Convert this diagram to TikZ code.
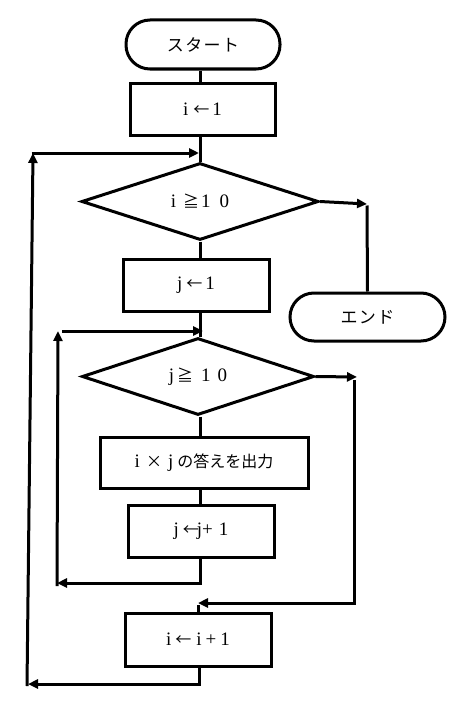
\documentclass[tikz,border=0pt]{standalone}
\usepackage{fontspec}
\setmainfont{Liberation Serif}
\newfontfamily\jp{Noto Sans CJK JP}
\newfontfamily\jpw{Noto Sans CJK JP}[LetterSpace=8]
\usetikzlibrary{shapes.geometric,arrows.meta}
\newcommand{\ja}[1]{{\jp\fontsize{16}{18}\selectfont #1}}
\begin{document}
\begin{tikzpicture}[x=1pt,y=-1pt,
  every node/.style={font=\fontsize{19}{21}\selectfont, inner sep=0pt},
  proc/.style={draw, line width=3pt, rectangle, minimum height=52pt},
  term/.style={draw, line width=3pt, rectangle, rounded corners=24pt, minimum height=49pt, font=\jpw\fontsize{17}{20}\selectfont},
  cond/.style={draw, line width=3pt, diamond, minimum height=77pt},
  conn/.style={line width=3pt},
  arr/.style={line width=3pt, -{Triangle[length=10pt,width=9pt]}}]
\useasboundingbox (0,0) rectangle (464,709);
\coordinate (col) at (200,0);
% nodes
\node[term, minimum width=154pt] (start) at (203,44.5) {スタート};
\node[proc, minimum width=145pt] (b1) at (202.5,109) {i\hspace{5pt}\ja{←}\hspace{3pt}1};
\node[cond, minimum width=237pt] (d1) at (200,201.5) {i\hspace{7pt}\ja{≧}\hspace{2pt}1\hspace{9pt}0};
\node[proc, minimum width=146pt] (b2) at (196,285) {j\hspace{4pt}\ja{←}\hspace{3pt}1};
\node[term, minimum width=155pt, minimum height=48pt] (end) at (367.5,317) {エンド};
\node[cond, minimum width=232pt] (d2) at (198,376.5) {j\hspace{3pt}\ja{≧}\hspace{8pt}1\hspace{7pt}0};
\node[proc, minimum width=208pt, minimum height=51pt] (b3) at (204,462.5) {i\hspace{6pt}\ja{×}\hspace{6pt}j\hspace{4pt}\ja{の答えを出力}};
\node[proc, minimum width=146pt] (b4) at (201,531) {j\hspace{4pt}\ja{←}\hspace{-2pt}j+\hspace{6pt}1};
\node[proc, minimum width=146pt, minimum height=53pt] (b5) at (198,639.5) {i\hspace{4pt}\ja{←}\hspace{5pt}i\hspace{4pt}+\hspace{4pt}1};
% helper coordinates
\coordinate (oB) at (199,684);
\coordinate (oL) at (28,684);
\coordinate (oLb) at (27,686);
\coordinate (oT) at (33,153);
\coordinate (oJ) at (199,153);
\coordinate (eR) at (367,204);
\coordinate (iB) at (200,583);
\coordinate (iL) at (57,583);
\coordinate (iLb) at (57,586);
\coordinate (iT) at (58,331);
\coordinate (iTr) at (62,331);
\coordinate (iJ) at (203,331);
\coordinate (jR) at (357,377);
\coordinate (jRt) at (354,380);
\coordinate (jRB) at (354,603);
\coordinate (jJ) at (198,603);
% main flow
\draw[conn] (start.south -| col) -- (b1.north -| col);
\draw[conn] (b1.south -| col) -- (d1.north);
\draw[conn] (d1.south) -- (b2.north -| col);
\draw[conn] (b2.south -| col) -- (d2.north -| col);
\draw[conn] (d2.south -| col) -- (b3.north -| col);
\draw[conn] (b3.south -| col) -- (b4.north -| col);
% outer loop
\draw[arr] (b5.south -| oB) -- (oB) -- (oL);
\draw[arr] (oLb) -- (oT);
\draw[arr] ([xshift=-1.5pt]oT) -- (oJ);
% exit to end
\draw[arr] (d1.east) -- (eR);
\draw[conn] ([yshift=-1.5pt]eR) -- (end.north);
% inner loop
\draw[arr] (b4.south -| iB) -- (iB) -- (iL);
\draw[arr] (iLb) -- (iT);
\draw[arr] (iTr) -- (iJ);
% inner exit
\draw[arr] (d2.east) -- (jR);
\draw[arr] (jRt) -- (jRB) -- (jJ);
\draw[conn] ([yshift=-1.5pt]jJ) -- (b5.north -| jJ);
\end{tikzpicture}
\end{document}
